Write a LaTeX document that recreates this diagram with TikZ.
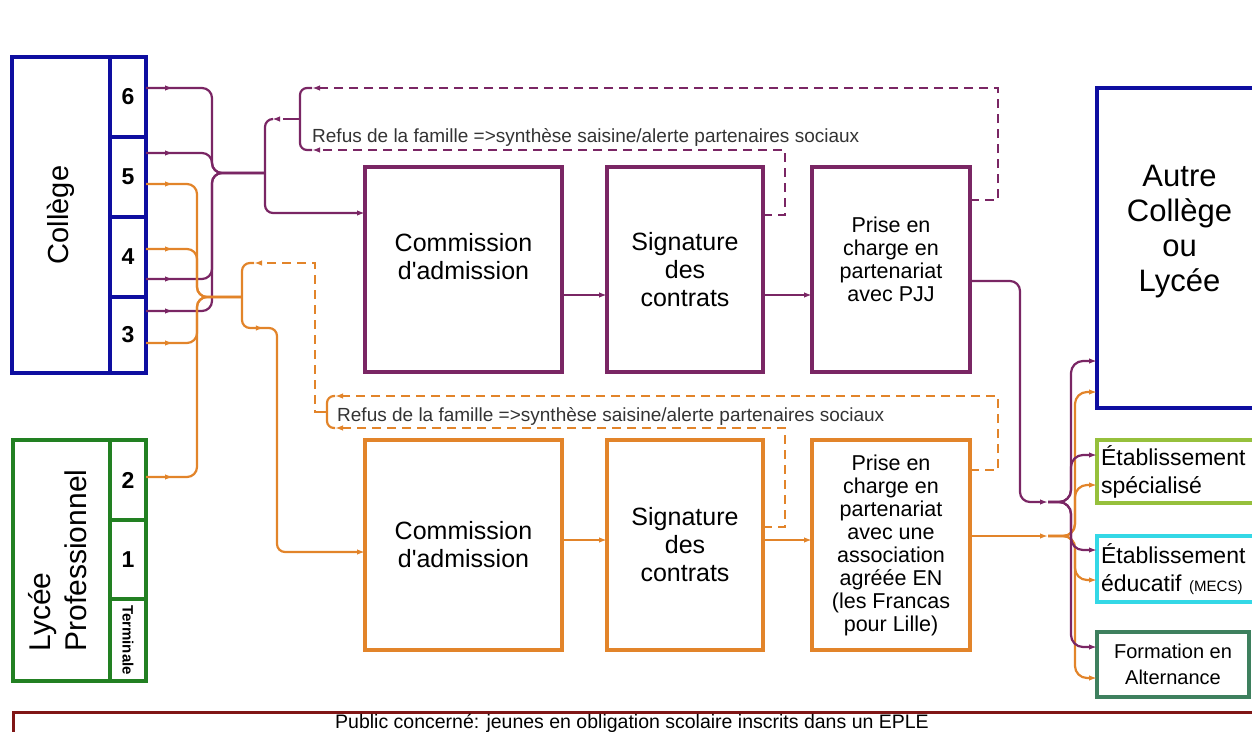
\documentclass[tikz,border=0pt]{standalone}
\usepackage{fontspec}
\setmainfont{Liberation Sans}
\usetikzlibrary{positioning,arrows.meta,decorations.markings}

\definecolor{prune}{RGB}{122,38,100}
\definecolor{orangeasso}{RGB}{226,132,42}
\definecolor{bleucol}{RGB}{14,14,160}
\definecolor{vertlp}{RGB}{34,128,34}
\definecolor{vertspe}{RGB}{150,192,60}
\definecolor{cyanedu}{RGB}{52,216,230}
\definecolor{vertform}{RGB}{62,128,94}
\definecolor{bordeaux}{RGB}{128,22,22}

\tikzset{
  cadre/.style={draw=#1, line width=3.5pt, inner sep=0pt, outer sep=0pt, align=center},
  num/.style={font=\bfseries\fontsize{23}{23}\selectfont},
  etape/.style={font=\fontsize{25}{28}\selectfont},
  prise/.style={font=\fontsize{21.5}{23}\selectfont},
  refus/.style={anchor=west, inner sep=0pt, font=\fontsize{19}{19}\selectfont},
  tip/.style={-{Latex[length=8pt,width=5.5pt]}},
  arrowat/.style={postaction={decorate, decoration={markings,
      mark=at position #1 with {\arrow{Latex[length=8pt,width=5.5pt]}}}}},
  pjjflow/.style={draw, color=prune, line width=2.2pt, rounded corners=10pt},
  assoflow/.style={draw, color=orangeasso, line width=2.2pt, rounded corners=10pt},
  retourP/.style={draw, color=prune, line width=2.4pt, dash pattern=on 9pt off 6pt, sharp corners},
  retourO/.style={draw, color=orangeasso, line width=2.4pt, dash pattern=on 9pt off 6pt, sharp corners},
}

\begin{document}
\begin{tikzpicture}[x=1pt,y=-1pt]
\clip (0,0) rectangle (1252,731);

\node[cadre=bleucol, line width=4pt, minimum width=98pt, minimum height=316pt, anchor=north west,
  font=\fontsize{29}{29}\selectfont] (college) at (12,57) {\rotatebox{90}{Collège}};
\node[cadre=bleucol, line width=4pt, num, minimum width=36pt, minimum height=80pt, anchor=north west] (c6) at (110,57) {6};
\node[cadre=bleucol, line width=4pt, num, minimum width=36pt, minimum height=80pt, below=0pt of c6] (c5) {5};
\node[cadre=bleucol, line width=4pt, num, minimum width=36pt, minimum height=80pt, below=0pt of c5] (c4) {4};
\node[cadre=bleucol, line width=4pt, num, minimum width=36pt, minimum height=76pt, below=0pt of c4] (c3) {3};

\node[cadre=vertlp, line width=4pt, minimum width=97pt, minimum height=241pt, anchor=north west,
  font=\fontsize{30}{36}\selectfont] (lp) at (13,440)
  {\rotatebox{90}{\begin{tabular}{@{}l@{}}Lycée\\Professionnel\end{tabular}}};
\node[cadre=vertlp, line width=4pt, num, minimum width=36pt, minimum height=80pt, anchor=north west] (lp2) at (110,440) {2};
\node[cadre=vertlp, line width=4pt, num, minimum width=36pt, minimum height=79pt, below=0pt of lp2] (lp1) {1};
\node[cadre=vertlp, line width=4pt, minimum width=36pt, minimum height=82pt, below=0pt of lp1,
  font=\bfseries\fontsize{15}{15}\selectfont] (lpT) {\rotatebox{-90}{Terminale}};

\node[cadre=prune, etape, minimum width=197pt, minimum height=205pt, anchor=north west] (comP) at (365,167) {Commission\\d\textquotesingle admission\\[-2pt]};
\node[cadre=prune, etape, minimum width=156pt, minimum height=205pt, right=45pt of comP] (sigP) {Signature\\des\\contrats};
\node[cadre=prune, prise, minimum width=158pt, minimum height=205pt, right=49pt of sigP] (priP) {Prise en\\charge en\\partenariat\\avec PJJ\\[-3pt]};

\node[cadre=orangeasso, etape, minimum width=197pt, minimum height=210pt, anchor=north west] (comO) at (365,440) {Commission\\d\textquotesingle admission};
\node[cadre=orangeasso, etape, minimum width=156pt, minimum height=210pt, right=45pt of comO] (sigO) {Signature\\des\\contrats};
\node[cadre=orangeasso, prise, minimum width=158pt, minimum height=210pt, right=49pt of sigO] (priO)
  {Prise en\\charge en\\partenariat\\avec une\\association\\agréée EN\\(les Francas\\pour Lille)};

\node[cadre=bleucol, line width=4pt, minimum width=175pt, minimum height=320pt, anchor=north west] (autre) at (1097,88) {};
\node[align=center, font=\fontsize{31}{35}\selectfont] (autretxt) at ([xshift=-5pt,yshift=16pt]autre.center) {Autre\\Collège\\ou\\Lycée};
\node[cadre=vertspe, anchor=north west, minimum height=63pt, text width=155pt, inner xsep=4pt, align=left,
  font=\fontsize{23}{28}\selectfont] (spec) at (1097,440) {Établissement\\spécialisé};
\node[cadre=cyanedu, anchor=north west, minimum height=66pt, text width=155pt, inner xsep=4pt, align=left,
  font=\fontsize{23}{28}\selectfont] (edu) at (1097,536) {Établissement\\éducatif {\fontsize{15}{15}\selectfont(MECS)}};
\node[cadre=vertform, anchor=north west, minimum width=152pt, minimum height=65pt,
  font=\fontsize{20}{26}\selectfont] (form) at (1097,632) {Formation en\\Alternance};

\node[draw=bordeaux, line width=2.5pt, anchor=north west, minimum width=1250pt, minimum height=30pt, inner sep=0pt] (public) at (12,711) {};
\node[inner sep=0pt, font=\fontsize{19.5}{19.5}\selectfont] (publictxt) at (632,723) {Public concerné: jeunes en obligation scolaire inscrits dans un EPLE};

\node[refus, color=black!80] (refusP) at (312,137) {Refus de la famille =>synthèse saisine/alerte partenaires sociaux};
\node[refus, color=black!80] (refusO) at (337,416) {Refus de la famille =>synthèse saisine/alerte partenaires sociaux};

\foreach \cel/\ya in {c6/88, c5/153, c4/279, c3/311}
  \draw[pjjflow, arrowat=27pt] (\cel.east |- 0,\ya) -- (212,\ya) -- (212,173) -- (265,173);
\draw[pjjflow, rounded corners=8pt, tip] (273,119) -- (265,119) -- (265,213) -- (comP.west |- 0,213);
\draw[retourP, tip] (292,119) -- (272,119);
\draw[pjjflow, rounded corners=7pt] (312,88) -- (300,88) -- (300,150) -- (312,150);
\draw[pjjflow, sharp corners] (300,119) -- (292,119);
\draw[retourP, tip] (sigP.east |- 0,215) -- (785,215) -- (785,150) -- (312,150);
\draw[retourP, tip] (priP.east |- 0,200) -- (998,200) -- (998,88) -- (312,88);
\draw[pjjflow, tip] (comP.east |- 0,295) -- (sigP.west |- 0,295);
\draw[pjjflow, tip] (sigP.east |- 0,295) -- (priP.west |- 0,295);

\foreach \cel/\ya in {c5/184, c4/249, c3/343, lp2/477}
  \draw[assoflow, arrowat=27pt] (\cel.east |- 0,\ya) -- (197,\ya) -- (197,297) -- (242,297);
\draw[assoflow, rounded corners=8pt, tip, arrowat=92pt] (254,263) -- (242,263) -- (242,328) -- (277,328) -- (277,552) -- (comO.west |- 0,552);
\draw[retourO, tip] (322,412) -- (315,412) -- (315,263) -- (254,263);
\draw[assoflow, rounded corners=7pt] (335,396) -- (327,396) -- (327,428) -- (335,428);
\draw[assoflow, sharp corners] (327,412) -- (321,412);
\draw[retourO, tip] (sigO.east |- 0,527) -- (785,527) -- (785,428) -- (335,428);
\draw[retourO, tip] (priO.east |- 0,470) -- (998,470) -- (998,396) -- (335,396);
\draw[assoflow, tip] (comO.east |- 0,540) -- (sigO.west |- 0,540);
\draw[assoflow, tip] (sigO.east |- 0,540) -- (priO.west |- 0,540);

\coordinate (psplit) at (1048,502);
\coordinate (osplit) at (1048,536);
\draw[pjjflow, tip] (priP.east |- 0,281) -- (1020,281) -- (1020,502) -- (psplit);
\draw[assoflow, tip] (priO.east |- 0,536) -- (osplit);
\foreach \cible/\yc in {autre/392, spec/485, edu/580, form/678}
  \draw[assoflow, tip, rounded corners=12pt] (osplit) -- (1075,536) -- (1075,\yc) -- (\cible.west |- 0,\yc);
\foreach \cible/\yc in {autre/361, spec/455, edu/550, form/647}
  \draw[pjjflow, tip, rounded corners=12pt] (psplit) -- (1071,502) -- (1071,\yc) -- (\cible.west |- 0,\yc);
\end{tikzpicture}
\end{document}
